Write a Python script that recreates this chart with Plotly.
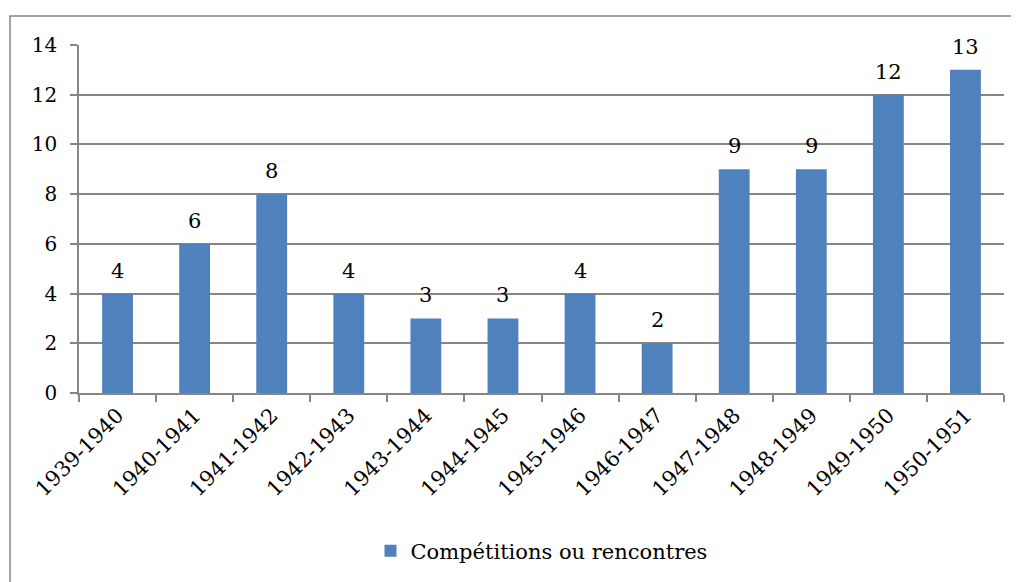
import plotly.graph_objects as go

seasons = ["1939-1940", "1940-1941", "1941-1942", "1942-1943", "1943-1944", "1944-1945",
           "1945-1946", "1946-1947", "1947-1948", "1948-1949", "1949-1950", "1950-1951"]
counts = [4, 6, 8, 4, 3, 3, 4, 2, 9, 9, 12, 13]
series_name = "Compétitions ou rencontres"
y_ticks = [0, 2, 4, 6, 8, 10, 12, 14]

FONT = "DejaVu Serif"
GRAY = "#868686"
BLUE = "#4F81BD"

OFF = 8  # page body margin
L, R, T, B = 79 - OFF, 15, 45 - OFF, 189
pw, ph = 925, 348
W = L + pw + R
H = T + ph + B

fig = go.Figure()
fig.add_trace(go.Bar(
    x=seasons, y=counts, name=series_name,
    marker=dict(color=BLUE, line=dict(width=0)),
    cliponaxis=False,
))

annotations = [
    dict(x=s, y=v, xref="x", yref="y", text=str(v), showarrow=False,
         yanchor="bottom", xanchor="center", yshift=9,
         font=dict(family=FONT, size=21, color="black"))
    for s, v in zip(seasons, counts)
]

fig.update_layout(
    width=W, height=H,
    margin=dict(l=L, r=R, t=T, b=B, autoexpand=False),
    paper_bgcolor="white", plot_bgcolor="white",
    font=dict(family=FONT, size=21, color="black"),
    bargap=0.6,
    showlegend=True,
    legend=dict(orientation="h", x=0.5, xanchor="center", y=(ph - (551 - 45)) / ph,
                yanchor="middle", font=dict(family=FONT, size=21),
                itemsizing="constant"),
    xaxis=dict(
        type="category", tickangle=-45, tickson="boundaries", automargin=False,
        ticks="outside", ticklen=7, tickcolor=GRAY, tickwidth=1.5,
        showline=True, linecolor=GRAY, linewidth=1.5,
        showgrid=False, tickfont=dict(family=FONT, size=21),
    ),
    yaxis=dict(
        range=[0, 14], tickvals=y_ticks, ticks="outside", ticklen=7, automargin=False,
        tickcolor=GRAY, tickwidth=1.5, ticklabelstandoff=9,
        showline=True, linecolor=GRAY, linewidth=1.5,
        showgrid=True, gridcolor=GRAY, gridwidth=1.5,
        zeroline=False, tickfont=dict(family=FONT, size=20),
    ),
    annotations=annotations,
    shapes=[dict(
        type="rect", xref="paper", yref="paper",
        x0=(10 - 79) / pw, x1=(1030 - 79) / pw,
        y0=(393 - 600) / ph, y1=(393 - 16) / ph,
        line=dict(color=GRAY, width=1.5), fillcolor="rgba(0,0,0,0)", layer="below",
    )],
)

fig.write_html("out.html")
